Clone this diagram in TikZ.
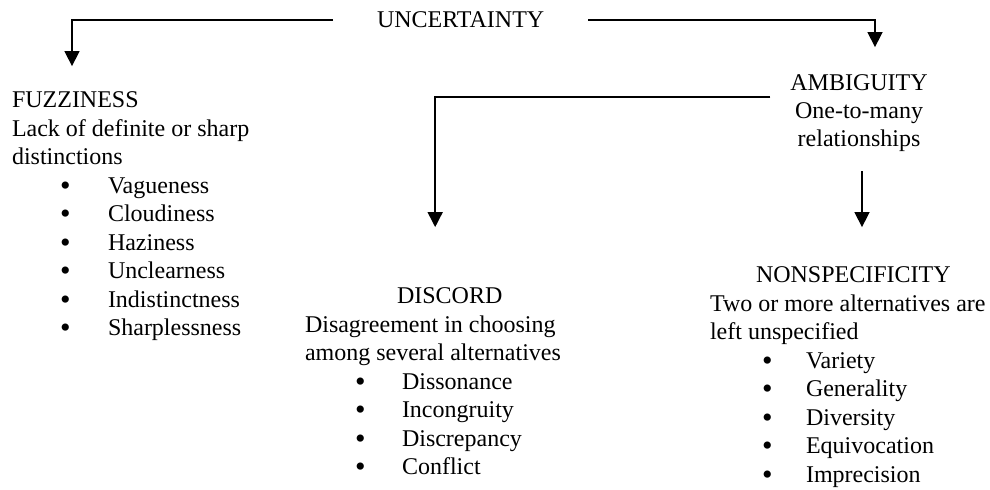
\documentclass[tikz,border=0pt]{standalone}
\usepackage{fontspec}
\setmainfont{Liberation Serif}
\usetikzlibrary{arrows.meta}

\tikzset{
  txt/.style={inner sep=0pt, outer sep=0pt, anchor=base west,
              font=\fontsize{12}{14.25}\selectfont},
  ctr/.style={txt, anchor=base},
  bul/.style={inner sep=0pt, outer sep=0pt, anchor=base west,
              font=\fontsize{15}{15}\selectfont},
  conn/.style={draw=black, line width=0.75pt, line join=miter,
               -{Triangle[length=7.5pt,width=7.5pt]}}
}
\newcommand{\listdot}{\raisebox{-0.9pt}{\textbullet}}

\begin{document}
\begin{tikzpicture}[x=0.5pt, y=-0.5pt]
  \useasboundingbox (0,0) rectangle (990,490);

  % root
  \node[txt] (unc) at (377,28) {UNCERTAINTY};

  % fuzziness branch
  \node[txt] (fuzz) at (12,108) {FUZZINESS};
  \node[txt] (fuzzd1) at (12,136.5) {Lack of definite or sharp};
  \node[txt] (fuzzd2) at (12,165) {distinctions};
  \foreach \t [count=\i from 0] in {Vagueness, Cloudiness, Haziness,
      Unclearness, Indistinctness, Sharplessness} {
    \node[bul] (fzb\i) at (60,{193.5+28.5*\i}) {\listdot};
    \node[txt] (fzi\i) at (108,{193.5+28.5*\i}) {\t};
  }

  % ambiguity branch
  \node[ctr] (amb) at (859,91) {AMBIGUITY};
  \node[ctr] (ambd1) at (859,119) {One-to-many};
  \node[ctr] (ambd2) at (859,147) {relationships};

  % discord
  \node[txt] (disc) at (397,304) {DISCORD};
  \node[txt] (discd1) at (305,332.5) {Disagreement in choosing};
  \node[txt] (discd2) at (305,361) {among several alternatives};
  \foreach \t [count=\i from 0] in {Dissonance, Incongruity, Discrepancy,
      Conflict} {
    \node[bul] (dcb\i) at (355,{389.5+28.5*\i}) {\listdot};
    \node[txt] (dci\i) at (402,{389.5+28.5*\i}) {\t};
  }

  % nonspecificity
  \node[txt] (nons) at (756,283) {NONSPECIFICITY};
  \node[txt] (nonsd1) at (710,311.5) {Two or more alternatives are};
  \node[txt] (nonsd2) at (710,340) {left unspecified};
  \foreach \t [count=\i from 0] in {Variety, Generality, Diversity,
      Equivocation, Imprecision} {
    \node[bul] (nsb\i) at (762,{368.5+28.5*\i}) {\listdot};
    \node[txt] (nsi\i) at (806,{368.5+28.5*\i}) {\t};
  }

  % connector end points
  \coordinate (uncL)  at ([xshift=-22pt]unc.west);
  \coordinate (uncR)  at ([xshift=22pt]unc.east);
  \coordinate (fzTip) at ([xshift=30pt,yshift=13pt]fuzz.north west);
  \coordinate (amTip) at ([xshift=8pt,yshift=14pt]amb.north);
  \coordinate (dsSrc) at ([xshift=-10pt,yshift=-7pt]amb.west);
  \coordinate (dsTip) at ([xshift=-7.25pt,yshift=30.5pt]disc.north);
  \coordinate (nsSrc) at ([xshift=1.5pt,yshift=-9.5pt]ambd2.south);
  \coordinate (nsTip) at ([yshift=20pt]nons.north);

  % connectors
  \draw[conn] (uncL) -| (fzTip);
  \draw[conn] (uncR) -| (amTip);
  \draw[conn] (dsSrc) -| (dsTip);
  \draw[conn] (nsSrc) -- (nsSrc |- nsTip);
\end{tikzpicture}
\end{document}
